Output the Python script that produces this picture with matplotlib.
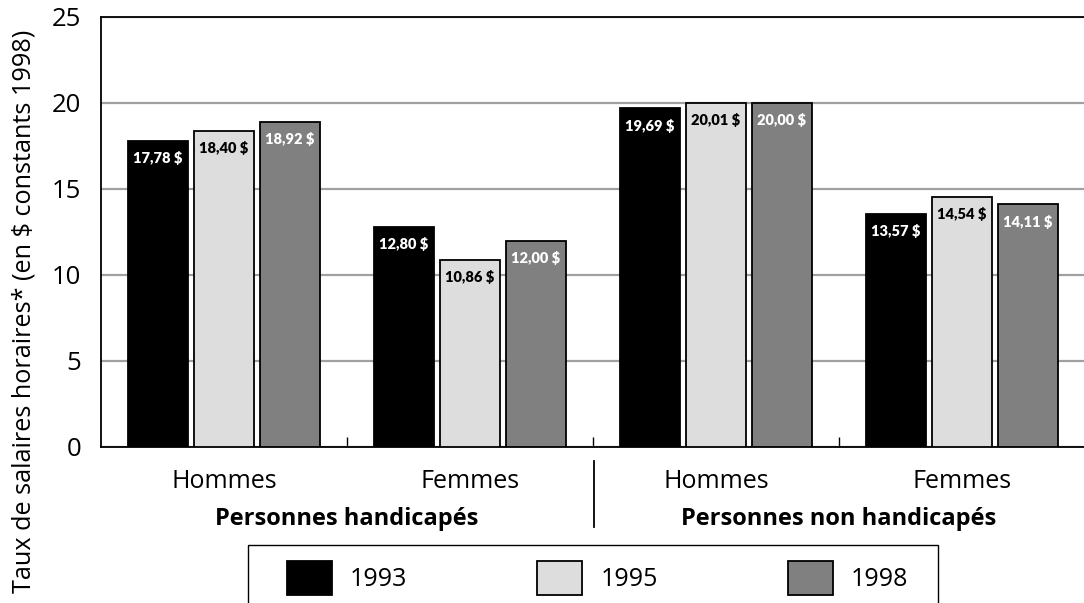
import numpy as np
import matplotlib.pyplot as plt
from matplotlib.patches import Rectangle
from matplotlib.lines import Line2D

# data
groups = ["Hommes", "Femmes", "Hommes", "Femmes"]
sections = ["Personnes handicapés", "Personnes non handicapés"]
years = ["1993", "1995", "1998"]
v1993 = [17.78, 12.80, 19.69, 13.57]
v1995 = [18.40, 10.86, 20.01, 14.54]
v1998 = [18.92, 12.00, 20.00, 14.11]

colors = ["#000000", "#dddddd", "#808080"]
txt_colors = ["white", "black", "white"]
narrow = ["Lato", "DejaVu Sans"]
plain = ["Open Sans", "DejaVu Sans"]

fig = plt.figure(figsize=(10.84, 6.03), dpi=100)
ax = fig.add_axes([101/1084, 1-447/603, 984/1084, 430/603])

x = np.arange(len(groups)) + 0.5
step = 0.268
width = 0.244
series = [v1993, v1995, v1998]
for i, vals in enumerate(series):
    pos = x + (i - 1) * step
    ax.bar(pos, vals, width, color=colors[i], edgecolor="black", linewidth=1.3,
           label=years[i], zorder=3)
    for p, v in zip(pos, vals):
        lab = f"{v:.2f}".replace(".", ",") + " $"
        ax.text(p, v - 1.0, lab, ha="center", va="center", fontsize=10.5,
                fontweight="heavy", color=txt_colors[i], family=narrow, zorder=4)

ax.set_xlim(0, 4)
ax.set_ylim(0, 25)
ax.set_yticks([0, 5, 10, 15, 20, 25])
ax.yaxis.grid(True, color="#a0a0a0", linewidth=1.6, zorder=0)
ax.tick_params(axis="y", length=0, pad=14, labelsize=18.5)
for t in ax.get_yticklabels():
    t.set_family(plain)

ax.set_xticks(x)
ax.set_xticklabels(groups, fontsize=18, family=plain)
ax.set_xticks([1, 2, 3], minor=True)
ax.tick_params(axis="x", which="major", length=0, pad=16)
ax.tick_params(axis="x", which="minor", direction="in", length=7, width=1)

for s in ["left", "top", "bottom"]:
    ax.spines[s].set_linewidth(1.3)
ax.spines["right"].set_visible(False)

ax.set_ylabel("Taux de salaires horaires* (en $ constants 1998)", fontsize=18.2,
              family=plain)
ax.yaxis.set_label_coords(-0.066, 0.316)

# section labels and divider
for k, name in enumerate(sections):
    fig.text((101 + 246 * (2 * k + 1)) / 1084, 1 - 519/603, name, ha="center",
             va="center", fontsize=17, fontweight="bold", family=plain)
fig.add_artist(Line2D([594/1084, 594/1084], [1-461/603, 1-527/603],
                      color="black", linewidth=1.3))

# legend box
fig.add_artist(Rectangle((248/1084, -0.05), 690/1084, 0.05 + 1-545/603,
                         facecolor="white", edgecolor="black", linewidth=1,
                         transform=fig.transFigure))
leg = fig.legend(loc="center left", bbox_to_anchor=(287/1084, 1-578/603),
                 ncol=3, frameon=False, prop={"family": plain, "size": 18},
                 handlelength=1.8, handleheight=1.76, handletextpad=0.72,
                 columnspacing=5.2, borderpad=0, borderaxespad=0)

fig.savefig("out.png", dpi=100)
